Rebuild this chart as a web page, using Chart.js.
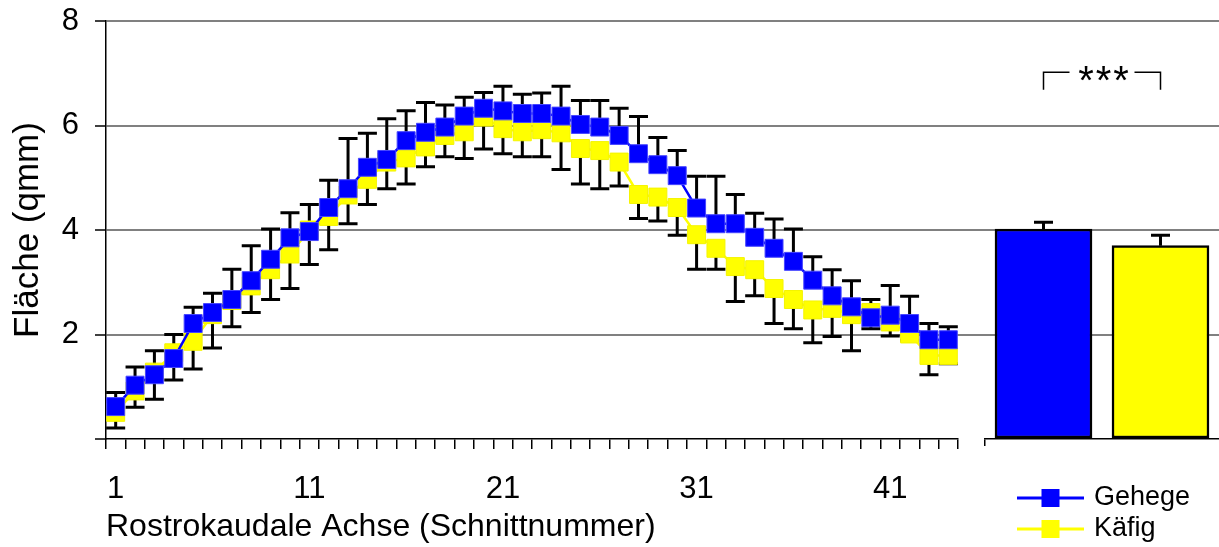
<!DOCTYPE html>
<html lang="de">
<head>
<meta charset="utf-8">
<title>Fläche entlang der rostrokaudalen Achse</title>
<script src="https://cdn.jsdelivr.net/npm/chart.js@4.4.1/dist/chart.umd.min.js"></script>
<style>
  html, body { margin: 0; padding: 0; background: #fff; overflow: hidden; }
  #wrap { position: relative; width: 1219px; height: 547px; }
  #lineCanvas { position: absolute; left: 0; top: 0; }
  #barCanvas { position: absolute; left: 958px; top: 0; }
</style>
</head>
<body>
<div id="wrap">
  <canvas id="lineCanvas" width="1219" height="547"></canvas>
  <canvas id="barCanvas" width="261" height="547"></canvas>
</div>
<script>
// Section numbers along the rostro-caudal axis
const sections = ['1','2','3','4','5','6','7','8','9','10','11','12','13','14','15','16','17','18','19','20','21','22',
                  '23','24','25','26','27','28','29','30','31','32','33','34','35','36','37','38','39','40','41','42','43','44'];
const shownSectionLabels = ['1', '11', '21', '31', '41'];

// Mean area per section (qmm)
const gehege = [0.62,1.03,1.23,1.54,2.21,2.42,2.67,3.03,3.44,3.85,
                3.97,4.43,4.79,5.20,5.35,5.71,5.87,5.97,6.18,6.33,
                6.28,6.23,6.23,6.18,6.02,5.97,5.81,5.46,5.25,5.04,
                4.42,4.12,4.12,3.86,3.65,3.40,3.04,2.74,2.53,2.32,
                2.37,2.21,1.90,1.90];
const kaefig = [0.51,0.92,1.28,1.65,1.87,2.38,2.65,2.93,3.24,3.54,
                4.00,4.26,4.67,4.97,5.30,5.38,5.59,5.81,5.88,6.16,
                5.94,5.88,5.92,5.86,5.56,5.52,5.30,4.68,4.63,4.43,
                3.91,3.65,3.30,3.24,2.88,2.67,2.47,2.50,2.38,2.42,
                2.24,2.01,1.60,1.60];

// Standard deviations (Gehege shown upwards, Käfig downwards)
const gehegeSD = [0.27,0.35,0.46,0.46,0.31,0.37,0.58,0.67,0.58,0.48,
                  0.52,0.52,0.96,0.65,0.78,0.57,0.57,0.42,0.36,0.30,
                  0.47,0.37,0.39,0.57,0.46,0.51,0.52,0.71,0.52,0.48,
                  0.61,0.91,0.56,0.46,0.56,0.62,0.45,0.50,0.50,0.35,
                  0.57,0.52,0.31,0.25];
const kaefigSD = [0.30,0.31,0.52,0.52,0.53,0.64,0.50,0.51,0.57,0.66,
                  0.66,0.64,0.55,0.48,0.51,0.50,0.38,0.41,0.51,0.61,
                  0.48,0.48,0.52,0.70,0.68,0.73,0.46,0.46,0.46,0.53,
                  0.66,0.40,0.67,0.50,0.67,0.56,0.63,0.54,0.69,0.31,
                  0.27,0.12,0.37,0.16];

// Overall means of both housing groups
const groups = ['Gehege', 'Käfig'];
const groupMeans = [4.02, 3.70];
const groupSD = [0.13, 0.20];
const significance = '***';

const FONT = "'Liberation Sans', Arial, Helvetica, sans-serif";
const BLUE = '#0000ff';
const YELLOW = '#ffff00';
const GRID = '#808080';

Chart.defaults.font.family = FONT;
Chart.defaults.color = '#000';
Chart.defaults.animation = false;

// Draws one-sided error bars from each data point (dataset.errors / dataset.errorDir)
const errorBars = {
  id: 'errorBars',
  beforeDatasetsDraw(chart, args, o) { if (o.layer === 'back') drawErrors(chart, o); },
  afterDatasetsDraw(chart, args, o) { if (o.layer === 'front') drawErrors(chart, o); }
};
function drawErrors(chart, o) {
  const ctx = chart.ctx;
  const yScale = chart.scales.y;
  ctx.save();
  ctx.strokeStyle = o.color;
  ctx.lineWidth = o.lineWidth;
  chart.data.datasets.forEach((ds, di) => {
    if (!ds.errors) return;
    const meta = chart.getDatasetMeta(di);
    meta.data.forEach((el, i) => {
      const v = ds.data[i], e = ds.errors[i];
      if (v == null || e == null) return;
      const y0 = yScale.getPixelForValue(v);
      const y1 = yScale.getPixelForValue(v + ds.errorDir * e);
      ctx.beginPath();
      ctx.moveTo(el.x, y0);
      ctx.lineTo(el.x, y1);
      ctx.moveTo(el.x - o.capHalf, y1);
      ctx.lineTo(el.x + o.capHalf, y1);
      ctx.stroke();
    });
  });
  ctx.restore();
}

// Key for the two line series, placed under the group bars
const seriesKey = {
  id: 'seriesKey',
  afterDraw(chart, args, o) {
    const ctx = chart.ctx;
    chart.data.datasets.forEach((ds, i) => {
      const y = o.top + i * o.rowGap;
      ctx.save();
      ctx.strokeStyle = ds.borderColor;
      ctx.lineWidth = o.lineWidth;
      ctx.beginPath();
      ctx.moveTo(o.left, y);
      ctx.lineTo(o.left + o.sample, y);
      ctx.stroke();
      const cx = o.left + o.sample / 2, h = o.marker / 2;
      ctx.fillStyle = ds.pointBackgroundColor;
      ctx.fillRect(cx - h, y - h, o.marker, o.marker);
      ctx.fillStyle = '#000';
      ctx.font = o.fontSize + 'px ' + FONT;
      ctx.textBaseline = 'middle';
      ctx.textAlign = 'left';
      ctx.fillText(ds.label, o.left + o.sample + o.gap, y);
      ctx.restore();
    });
  }
};

// Significance bracket over the two group bars
const sigBracket = {
  id: 'sigBracket',
  afterDraw(chart, args, o) {
    const ctx = chart.ctx;
    const meta = chart.getDatasetMeta(0);
    const x1 = meta.data[0].x, x2 = meta.data[1].x;
    const mid = (x1 + x2) / 2;
    const y = chart.scales.y.getPixelForValue(o.level);
    ctx.save();
    ctx.strokeStyle = '#000';
    ctx.lineWidth = o.lineWidth;
    ctx.beginPath();
    ctx.moveTo(x1, y + o.drop);
    ctx.lineTo(x1, y);
    ctx.lineTo(mid - o.gap, y);
    ctx.moveTo(mid + o.gap, y);
    ctx.lineTo(x2, y);
    ctx.lineTo(x2, y + o.drop);
    ctx.stroke();
    ctx.fillStyle = '#000';
    ctx.font = o.fontSize + 'px ' + FONT;
    ctx.textAlign = 'center';
    ctx.textBaseline = 'alphabetic';
    const chars = o.text.split('');
    chars.forEach((c, i) => {
      ctx.fillText(c, mid + o.shift + (i - (chars.length - 1) / 2) * o.spacing, y + o.baseline);
    });
    ctx.restore();
  }
};

const lineDataset = (label, data, errors, dir, color, edge) => ({
  label, data, errors, errorDir: dir,
  borderColor: color, backgroundColor: color, borderWidth: 2.5,
  pointStyle: 'rect', pointRadius: 12.7, pointHoverRadius: 12.7,
  pointBackgroundColor: color, pointBorderColor: edge, pointBorderWidth: 1,
  tension: 0
});

new Chart(document.getElementById('lineCanvas'), {
  type: 'line',
  data: {
    labels: sections,
    datasets: [
      lineDataset('Gehege', gehege, gehegeSD, 1, BLUE, '#4646ff'),
      lineDataset('Käfig', kaefig, kaefigSD, -1, YELLOW, '#f4f400')
    ]
  },
  options: {
    responsive: false,
    layout: { padding: { top: 21, right: 261, bottom: 0, left: 0 } },
    plugins: {
      legend: { display: false },
      tooltip: { enabled: false },
      errorBars: { layer: 'back', color: '#000', lineWidth: 3, capHalf: 9.5 },
      seriesKey: { left: 1017, top: 498, rowGap: 31, sample: 67, marker: 18, gap: 10, lineWidth: 3, fontSize: 27 }
    },
    scales: {
      x: {
        offset: true,
        afterFit(scale) { scale.height = 108; scale.paddingLeft = 0; scale.paddingRight = 0; },
        ticks: {
          autoSkip: false, maxRotation: 0, minRotation: 0, padding: 22,
          font: { size: 31 }, color: '#000',
          callback(value) {
            const s = this.getLabelForValue(value);
            return shownSectionLabels.includes(s) ? s : '';
          }
        },
        grid: { offset: true, drawOnChartArea: false, color: '#000', lineWidth: 1.5, tickLength: 10 },
        border: { color: '#000', width: 1.5 },
        title: {
          display: true, text: 'Rostrokaudale Achse (Schnittnummer)', align: 'start',
          font: { size: 32 }, color: '#000', padding: { top: 0, bottom: 1 }
        }
      },
      y: {
        min: 0, max: 8,
        afterFit(scale) { scale.width = 106; scale.paddingTop = 0; scale.paddingBottom = 0; },
        ticks: {
          stepSize: 2, padding: 16, font: { size: 31 }, color: '#000',
          callback: v => (v === 0 ? '' : v)
        },
        grid: {
          color: c => (c.tick && c.tick.value === 0 ? 'rgba(0,0,0,0)' : GRID),
          lineWidth: 2, tickLength: 11, tickColor: '#000', tickWidth: 1.5
        },
        border: { color: '#000', width: 1.5 },
        title: { display: true, text: 'Fläche (qmm)', font: { size: 35 }, color: '#000', padding: { top: 7, bottom: 0 } }
      }
    }
  },
  plugins: [errorBars, seriesKey]
});

new Chart(document.getElementById('barCanvas'), {
  type: 'bar',
  data: {
    labels: groups,
    datasets: [{
      label: 'Mittelwert',
      data: groupMeans, errors: groupSD, errorDir: 1,
      backgroundColor: [BLUE, YELLOW],
      borderColor: '#000', borderWidth: 2.5, borderSkipped: false,
      barThickness: 97
    }]
  },
  options: {
    responsive: false,
    layout: { padding: { top: 21, right: 0, bottom: 0, left: 0 } },
    plugins: {
      legend: { display: false },
      tooltip: { enabled: false },
      errorBars: { layer: 'front', color: '#000', lineWidth: 3, capHalf: 9.5 },
      sigBracket: { text: significance, level: 7.02, drop: 17.5, gap: 32.5, lineWidth: 1.5,
                    fontSize: 40, spacing: 17.5, shift: 1.5, baseline: 22 }
    },
    scales: {
      x: {
        afterFit(scale) { scale.height = 108; },
        ticks: { display: false },
        grid: {
          offset: true, drawOnChartArea: false, lineWidth: 1.5, tickLength: 7,
          color: c => (c.index === 0 ? '#000' : 'rgba(0,0,0,0)')
        },
        border: { color: '#000', width: 1.5 }
      },
      y: {
        min: 0, max: 8,
        afterFit(scale) { scale.width = 27; scale.paddingTop = 0; scale.paddingBottom = 0; },
        ticks: { stepSize: 2, display: false },
        grid: {
          color: c => (c.tick && c.tick.value === 0 ? 'rgba(0,0,0,0)' : GRID),
          lineWidth: 2, tickLength: 27
        },
        border: { display: false }
      }
    }
  },
  plugins: [errorBars, sigBracket]
});
</script>
</body>
</html>
